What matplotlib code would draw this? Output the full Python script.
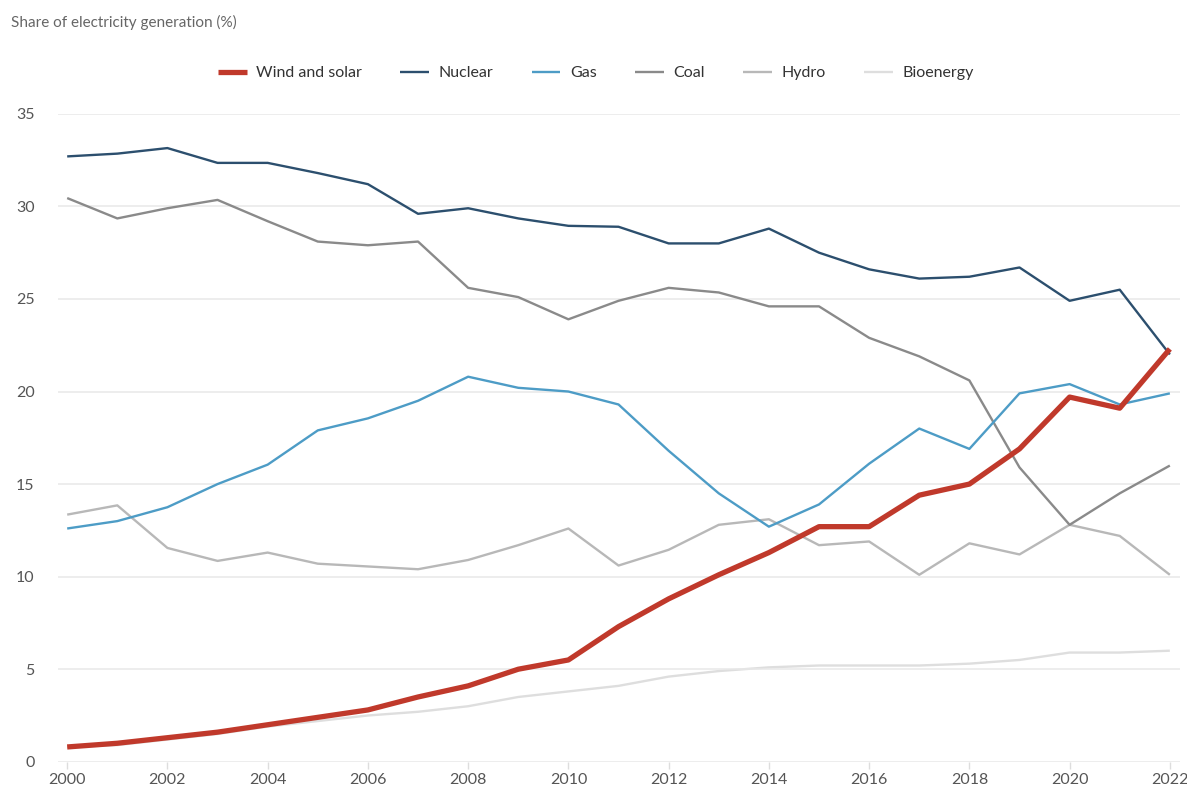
import numpy as np
import matplotlib
matplotlib.use("Agg")
import matplotlib.pyplot as plt

plt.rcParams['font.family'] = ['Lato', 'DejaVu Sans']

years = list(range(2000, 2023))

wind_solar = [0.8, 1.0, 1.3, 1.6, 2.0, 2.4, 2.8, 3.5, 4.1, 5.0, 5.5, 7.3,
              8.8, 10.1, 11.3, 12.7, 12.7, 14.4, 15.0, 16.9, 19.7, 19.1, 22.3]
nuclear = [32.7, 32.85, 33.15, 32.35, 32.35, 31.8, 31.2, 29.6, 29.9, 29.35,
           28.95, 28.9, 28.0, 28.0, 28.8, 27.5, 26.6, 26.1, 26.2, 26.7,
           24.9, 25.5, 22.0]
gas = [12.6, 13.0, 13.75, 15.0, 16.05, 17.9, 18.55, 19.5, 20.8, 20.2, 20.0,
       19.3, 16.8, 14.5, 12.7, 13.9, 16.1, 18.0, 16.9, 19.9, 20.4, 19.3, 19.9]
coal = [30.45, 29.35, 29.9, 30.35, 29.2, 28.1, 27.9, 28.1, 25.6, 25.1, 23.9,
        24.9, 25.6, 25.35, 24.6, 24.6, 22.9, 21.9, 20.6, 15.9, 12.8, 14.5, 16.0]
hydro = [13.35, 13.85, 11.55, 10.85, 11.3, 10.7, 10.55, 10.4, 10.9, 11.7,
         12.6, 10.6, 11.45, 12.8, 13.1, 11.7, 11.9, 10.1, 11.8, 11.2, 12.8,
         12.2, 10.1]
bioenergy = [0.8, 0.9, 1.2, 1.5, 1.9, 2.2, 2.5, 2.7, 3.0, 3.5, 3.8, 4.1,
             4.6, 4.9, 5.1, 5.2, 5.2, 5.2, 5.3, 5.5, 5.9, 5.9, 6.0]

series = [
    ("Wind and solar", wind_solar, "#c0392b", 3.8, 6),
    ("Nuclear", nuclear, "#2c4f6e", 1.7, 5),
    ("Gas", gas, "#4d9cc6", 1.7, 4),
    ("Coal", coal, "#8a8a8a", 1.7, 3),
    ("Hydro", hydro, "#b8b8b8", 1.7, 2),
    ("Bioenergy", bioenergy, "#dedede", 1.7, 1),
]

fig = plt.figure(figsize=(11.87, 7.96), dpi=100)
ax = fig.add_axes([0.049, 0.043, 0.945, 0.814])

for name, vals, col, lw, z in series:
    ax.plot(years, vals, color=col, lw=lw, zorder=z, label=name,
            solid_capstyle='butt', solid_joinstyle='round', clip_on=False)

ax.set_xlim(1999.82, 2022.2)
ax.set_ylim(0, 35)
ax.set_yticks(range(0, 36, 5))
ax.set_xticks(range(2000, 2023, 2))
ax.grid(axis='y', color='#e8e8e8', lw=1.1, zorder=0)
for s in ax.spines.values():
    s.set_visible(False)
ax.tick_params(axis='y', length=0, pad=17, labelsize=11.5, labelcolor='#555555')
ax.tick_params(axis='x', length=5, width=1, color='#dddddd', pad=3,
               labelsize=11.5, labelcolor='#555555')

fig.text(0.009, 0.972, "Share of electricity generation (%)", fontsize=11,
         color='#666666', va='center', ha='left')

leg = fig.legend(loc='center', bbox_to_anchor=(0.502, 0.908), ncol=6,
                 frameon=False, fontsize=11.5, handlelength=1.8,
                 columnspacing=2.4, handletextpad=0.6)
for t in leg.get_texts():
    t.set_color('#333333')

fig.savefig("out.png", dpi=100)
